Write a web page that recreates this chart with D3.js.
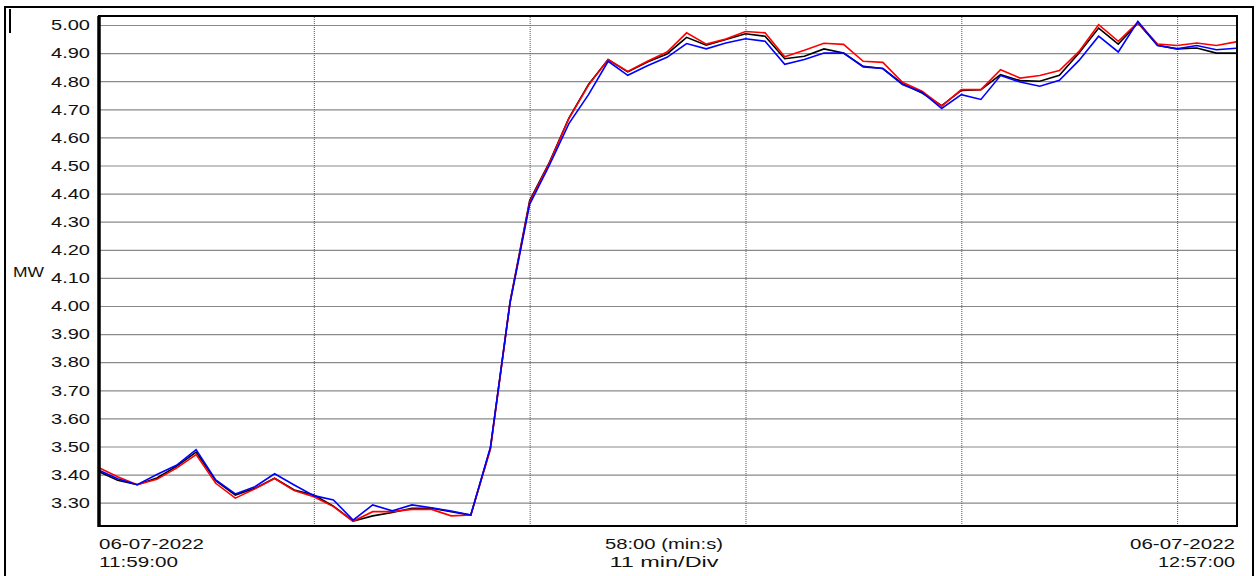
<!DOCTYPE html>
<html>
<head>
<meta charset="utf-8">
<script src="https://cdn.jsdelivr.net/npm/d3@7"></script>
<style>
  html, body { margin: 0; padding: 0; background: #fff; }
  svg { display: block; }
  text { font-family: "Liberation Sans", Arial, sans-serif; fill: #111; }
</style>
</head>
<body>
<svg id="chart" width="1259" height="576"></svg>
<script>
// ---- data ----
const times = ["11:59","12:00","12:01","12:02","12:03","12:04","12:05","12:06","12:07","12:08",
  "12:09","12:10","12:11","12:12","12:13","12:14","12:15","12:16","12:17","12:18",
  "12:19","12:20","12:21","12:22","12:23","12:24","12:25","12:26","12:27","12:28",
  "12:29","12:30","12:31","12:32","12:33","12:34","12:35","12:36","12:37","12:38",
  "12:39","12:40","12:41","12:42","12:43","12:44","12:45","12:46","12:47","12:48",
  "12:49","12:50","12:51","12:52","12:53","12:54","12:55","12:56","12:57"];

const seriesBlack = [3.412,3.380,3.364,3.388,3.429,3.480,3.378,3.327,3.351,3.387,
  3.345,3.327,3.288,3.234,3.253,3.265,3.280,3.280,3.268,3.256,
  3.494,4.015,4.375,4.510,4.669,4.788,4.877,4.833,4.868,4.897,
  4.956,4.928,4.948,4.969,4.960,4.880,4.889,4.915,4.900,4.853,
  4.845,4.791,4.758,4.713,4.767,4.770,4.823,4.802,4.800,4.821,
  4.900,4.989,4.932,5.007,4.928,4.915,4.918,4.900,4.900];

const seriesRed = [3.426,3.392,3.364,3.383,3.423,3.471,3.369,3.316,3.349,3.386,
  3.343,3.321,3.286,3.234,3.268,3.268,3.276,3.276,3.253,3.256,
  3.490,4.012,4.370,4.508,4.667,4.786,4.877,4.835,4.871,4.904,
  4.972,4.932,4.950,4.977,4.972,4.887,4.910,4.935,4.931,4.871,
  4.867,4.796,4.764,4.711,4.770,4.770,4.841,4.811,4.820,4.838,
  4.906,5.001,4.942,5.009,4.932,4.927,4.936,4.927,4.940];

const seriesBlue = [3.417,3.385,3.364,3.400,3.433,3.489,3.381,3.331,3.357,3.403,
  3.363,3.325,3.310,3.238,3.292,3.271,3.292,3.282,3.270,3.256,
  3.497,4.010,4.362,4.500,4.649,4.752,4.871,4.821,4.855,4.885,
  4.934,4.915,4.936,4.951,4.942,4.860,4.877,4.900,4.900,4.851,
  4.845,4.788,4.761,4.703,4.752,4.735,4.820,4.797,4.782,4.803,
  4.874,4.960,4.904,5.013,4.927,4.915,4.927,4.912,4.917];

const yTickLabels = ["3.30","3.40","3.50","3.60","3.70","3.80","3.90","4.00","4.10","4.20",
  "4.30","4.40","4.50","4.60","4.70","4.80","4.90","5.00"];
const xGridTimes = ["12:10","12:21","12:32","12:43","12:54"];
const xDomainTimes = ["11:59","12:57"];
const yDomain = [3.217, 5.032];
const yUnit = "MW";
const startLabel = ["06-07-2022", "11:59:00"];
const midLabel = ["58:00 (min:s)", "11 min/Div"];
const endLabel = ["06-07-2022", "12:57:00"];

// ---- layout ----
const L = 99, R = 1237, T = 16, B = 526;
const parse = d3.timeParse("%Y-%m-%d %H:%M");
const toDate = s => parse("2022-07-06 " + s);

const svg = d3.select("#chart");

const x = d3.scaleTime().domain(xDomainTimes.map(toDate)).range([L - 1, R - 1]);
const y = d3.scaleLinear().domain(yDomain).range([B, T]);

// outer frame
svg.append("path").attr("d", `M5,576 V7 H1253 V576`).attr("fill", "none")
  .attr("stroke", "#000").attr("stroke-width", 2);
svg.append("line").attr("x1", 10).attr("x2", 10).attr("y1", 9).attr("y2", 33)
  .attr("stroke", "#000").attr("stroke-width", 2);

// horizontal gridlines
const yTickVals = yTickLabels.map(Number);
const gy = svg.append("g").attr("transform", `translate(${L},0)`)
  .call(d3.axisLeft(y).tickValues(yTickVals).tickSize(-(R - L)).tickFormat(""));
gy.select(".domain").remove();
gy.selectAll(".tick line").attr("stroke", "#8a8a8a").attr("stroke-width", 1.2);

// vertical gridlines
const gx = svg.append("g").attr("transform", `translate(0,${B})`)
  .call(d3.axisBottom(x).tickValues(xGridTimes.map(toDate)).tickSize(-(B - T)).tickFormat(""));
gx.select(".domain").remove();
gx.selectAll(".tick line").attr("stroke", "#555").attr("stroke-width", 1)
  .attr("stroke-dasharray", "1,1");

// y labels
const yl = svg.append("g").attr("transform", `translate(${L},0)`)
  .call(d3.axisLeft(y).tickValues(yTickVals).tickSize(0).tickPadding(9)
    .tickFormat((d, i) => yTickLabels[i]));
yl.select(".domain").remove();
yl.selectAll(".tick text").attr("font-size", 15).attr("textLength", 39)
  .attr("lengthAdjust", "spacingAndGlyphs").attr("fill", "#111")
  .attr("font-family", "Liberation Sans, Arial, sans-serif");

svg.append("text").attr("x", 13).attr("y", 277).attr("font-size", 15)
  .attr("textLength", 31).attr("lengthAdjust", "spacingAndGlyphs").text(yUnit);

// lines
const line = d3.line().x((d, i) => x(toDate(times[i]))).y(d => y(d));
const plot = svg.append("g");
[[seriesBlack, "#000"], [seriesRed, "#ff0000"], [seriesBlue, "#0000ff"]].forEach(([s, c]) => {
  plot.append("path").datum(s).attr("d", line).attr("fill", "none")
    .attr("stroke", c).attr("stroke-width", 1.6).attr("stroke-linejoin", "miter");
});

// plot frame
svg.append("rect").attr("x", L).attr("y", T).attr("width", R - L).attr("height", B - T)
  .attr("fill", "none").attr("stroke", "#000").attr("stroke-width", 2);
svg.append("line").attr("x1", L).attr("x2", L).attr("y1", T).attr("y2", B + 1)
  .attr("stroke", "#000").attr("stroke-width", 3.5);

// bottom labels
function label(xp, yp, txt, anchor, len) {
  svg.append("text").attr("x", xp).attr("y", yp).attr("text-anchor", anchor)
    .attr("font-size", 15).attr("textLength", len).attr("lengthAdjust", "spacingAndGlyphs")
    .text(txt);
}
label(x(toDate(xDomainTimes[0])) + 1, 549, startLabel[0], "start", 105);
label(x(toDate(xDomainTimes[0])) + 1, 567, startLabel[1], "start", 79);
label((L + R) / 2 - 4, 549, midLabel[0], "middle", 118);
label((L + R) / 2 - 4, 567, midLabel[1], "middle", 109);
label(R - 2, 549, endLabel[0], "end", 105);
label(R - 2, 567, endLabel[1], "end", 77);
</script>
</body>
</html>
